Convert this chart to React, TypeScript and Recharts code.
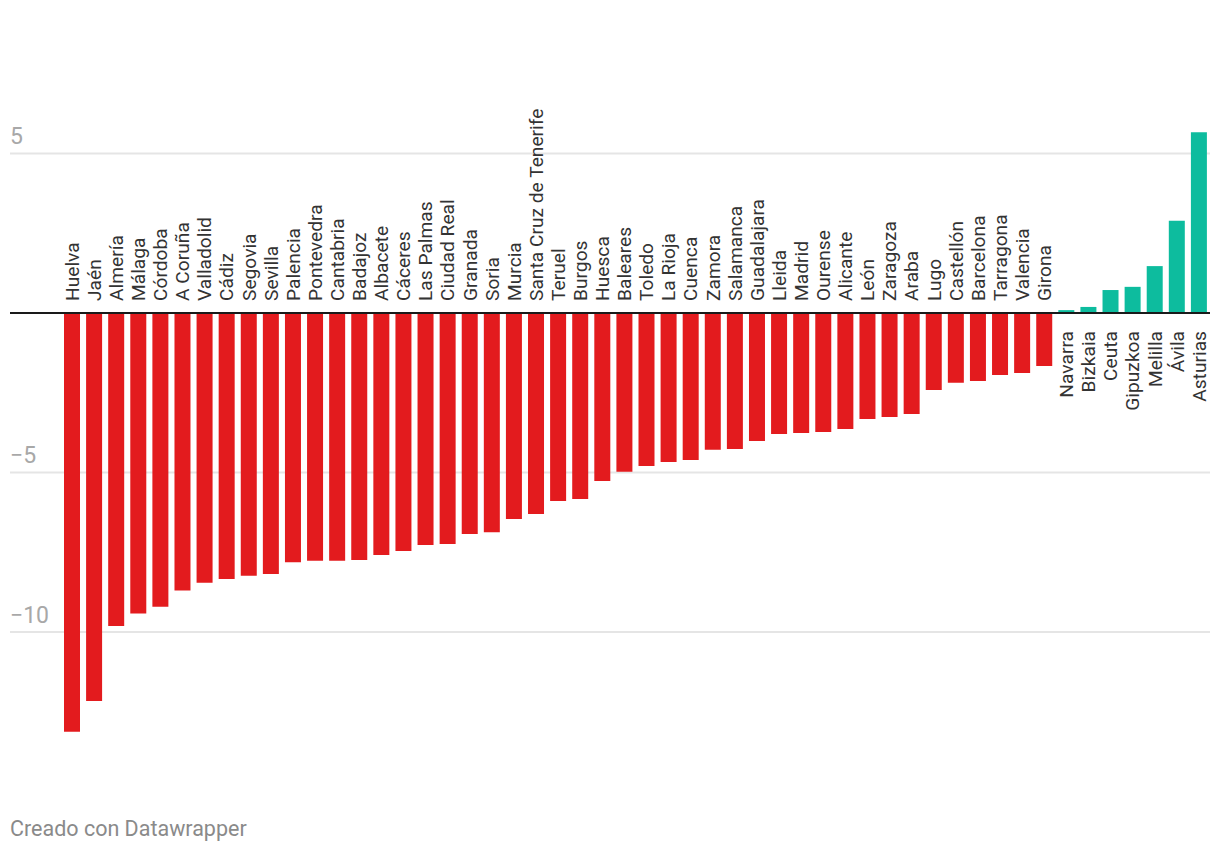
import { BarChart, Bar, XAxis, YAxis, CartesianGrid, ReferenceLine, Cell, LabelList } from 'recharts'

const NAMES = [
  'Huelva', 'Jaén', 'Almería', 'Málaga', 'Córdoba', 'A Coruña', 'Valladolid', 'Cádiz',
  'Segovia', 'Sevilla', 'Palencia', 'Pontevedra', 'Cantabria', 'Badajoz', 'Albacete', 'Cáceres',
  'Las Palmas', 'Ciudad Real', 'Granada', 'Soria', 'Murcia', 'Santa Cruz de Tenerife', 'Teruel', 'Burgos',
  'Huesca', 'Baleares', 'Toledo', 'La Rioja', 'Cuenca', 'Zamora', 'Salamanca', 'Guadalajara',
  'Lleida', 'Madrid', 'Ourense', 'Alicante', 'León', 'Zaragoza', 'Araba', 'Lugo',
  'Castellón', 'Barcelona', 'Tarragona', 'Valencia', 'Girona', 'Navarra', 'Bizkaia', 'Ceuta',
  'Gipuzkoa', 'Melilla', 'Ávila', 'Asturias',
]

const VALUES = [
  -13.13, -12.16, -9.81, -9.42, -9.21, -8.7, -8.46, -8.34,
  -8.24, -8.18, -7.81, -7.77, -7.77, -7.74, -7.59, -7.46,
  -7.27, -7.24, -6.93, -6.87, -6.46, -6.3, -5.89, -5.83,
  -5.27, -4.98, -4.8, -4.67, -4.61, -4.29, -4.26, -4.01,
  -3.79, -3.76, -3.73, -3.64, -3.32, -3.26, -3.17, -2.41,
  -2.19, -2.13, -1.94, -1.88, -1.66, 0.09, 0.19, 0.72,
  0.82, 1.47, 2.89, 5.67,
]

const Y_TICKS = [-10, -5, 0, 5]

const RED = '#e31b1e'
const TEAL = '#0dbc9e'
const FONT = 'Roboto, sans-serif'
const PLOT_LEFT = 10

const data = NAMES.map((name, i) => ({ name, value: VALUES[i] }))

const fmt = (v: number) => (v < 0 ? '\u2212' + Math.abs(v) : String(v))

const YTick = (props: any) => {
  const { y, payload } = props
  if (payload.value === 0) return <g />
  return (
    <text x={PLOT_LEFT} y={y - 9.5} fill="#a8a8a8" fontSize={23} fontFamily={FONT} textAnchor="start">
      {fmt(payload.value)}
    </text>
  )
}

const NameLabel = (props: any) => {
  const { x, y, width, height, value, index } = props
  const v = VALUES[index]
  const cx = x + width / 2
  const zero = v >= 0 ? Math.max(y, y + height) : Math.min(y, y + height)
  const above = v < 0
  const ty = above ? zero - 12 : zero + 18
  return (
    <text
      transform={`translate(${cx + 6.8}, ${ty}) rotate(-90)`}
      textAnchor={above ? 'start' : 'end'}
      fill="#333"
      fontSize={19.2}
      fontFamily={FONT}
    >
      {value}
    </text>
  )
}

export default function App() {
  return (
    <div style={{ position: 'absolute', left: 0, top: 0, width: 1220, height: 854, background: '#fff' }}>
      <BarChart
        width={1220}
        height={854}
        data={data}
        margin={{ top: 121.6, right: 10, bottom: 94.4, left: PLOT_LEFT }}
      >
        <CartesianGrid vertical={false} syncWithTicks stroke="#e5e5e5" strokeWidth={2} />
        <XAxis dataKey="name" hide padding={{ left: 51, right: 0 }} />
        <YAxis
          mirror
          width={60}
          domain={[-14, 6]}
          ticks={Y_TICKS}
          axisLine={false}
          tickLine={false}
          tick={YTick}
        />
        <Bar dataKey="value" barSize={16} isAnimationActive={false}>
          {data.map((d, i) => (
            <Cell key={i} fill={d.value < 0 ? RED : TEAL} />
          ))}
          <LabelList dataKey="name" content={NameLabel} />
        </Bar>
        <ReferenceLine y={0} stroke="#1a1a1a" strokeWidth={2} />
      </BarChart>
      <div
        style={{
          position: 'absolute',
          left: 10,
          top: 817.7,
          fontFamily: FONT,
          fontSize: 21.5,
          lineHeight: '22px',
          color: '#8a8a8a',
        }}
      >
        Creado con Datawrapper
      </div>
    </div>
  )
}
